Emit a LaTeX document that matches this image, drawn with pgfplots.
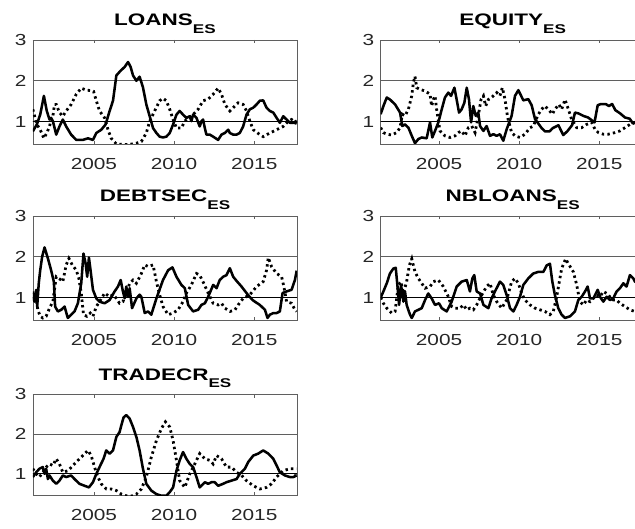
\documentclass[border=0pt]{standalone}
\usepackage{fontspec}
\setmainfont{Liberation Sans}
\usepackage{graphicx}
\usepackage{pgfplots}
\pgfplotsset{compat=1.18}
\definecolor{axgray}{RGB}{95,95,95}
\definecolor{txtgray}{RGB}{38,38,38}
\newcommand\sx[1]{\scalebox{1.3}[1]{\fontsize{12}{14}\selectfont #1}}
\newcommand\ttl[1]{\scalebox{1.35}[1]{\fontsize{12.5}{14}\selectfont\bfseries #1\raisebox{-5.8pt}{\fontsize{9.5}{10}\selectfont\bfseries ES}}}
\pgfplotsset{
 panel/.style={
  scale only axis, width=198pt, height=78pt, anchor=south west,
  ymin=0.45, ymax=3,
  xtick={2005,2010,2015}, xticklabels={\sx{2005},\sx{2010},\sx{2015}},
  ytick={1,2,3}, yticklabels={\sx{1},\sx{2},\sx{3}},
  tick align=inside, xtick pos=both, ytick pos=both,
  major tick length=2.5pt,
  axis line style={axgray, line width=0.6pt},
  every tick/.style={axgray, line width=0.5pt},
  ymajorgrids, major grid style={axgray, line width=0.6pt},
  ticklabel style={font=\fontsize{12}{14}\selectfont, text=txtgray},
  xticklabel style={yshift=-7pt},
  yticklabel style={xshift=-1.4pt},
  title style={font=\fontsize{12.5}{14}\selectfont, anchor=base, yshift=4.7pt},
  clip=true,
 },
 leftcol/.style={xmin=2001.2, xmax=2017.67},
 rightcol/.style={xmin=2001.36, xmax=2017.83},
 sline/.style={black, line width=1.9pt, line join=round},
 dline/.style={black, line width=2.1pt, dash pattern=on 1.8pt off 2.4pt},
 oneline/.style={black, line width=0.6pt, forget plot},
}
\begin{document}
\begin{tikzpicture}
\path[use as bounding box] (0,0) rectangle (476.25pt,396pt);
\clip (0,0) rectangle (476.25pt,396pt);

% ---------------- LOANS ----------------
\begin{axis}[panel, leftcol, at={(24.75pt,288pt)}, title={\ttl{LOANS}}]
\addplot[oneline] coordinates {(2000,1) (2019,1)};
\addplot[dline] coordinates {
(2001.19,1.30) (2001.44,0.93) (2001.65,0.80) (2001.88,0.59) (2002.06,0.72) (2002.23,0.88) (2002.33,1.05) (2002.44,1.13) (2002.54,1.42) (2002.65,1.42) (2002.85,1.22) (2003.06,1.13) (2003.27,1.26) (2003.58,1.42) (2003.90,1.67) (2004.21,1.82) (2004.52,1.77) (2004.83,1.76) (2004.98,1.74) (2005.15,1.51) (2005.35,1.26) (2005.67,1.09) (2005.88,0.80) (2006.08,0.59) (2006.40,0.45) (2006.81,0.44) (2007.23,0.44) (2007.65,0.47) (2007.96,0.51) (2008.27,0.72) (2008.48,1.01) (2008.79,1.26) (2009.10,1.51) (2009.31,1.57) (2009.52,1.51) (2009.73,1.30) (2009.94,1.05) (2010.15,0.84) (2010.46,0.84) (2010.67,1.01) (2010.88,1.09) (2011.19,1.17) (2011.50,1.30) (2011.81,1.51) (2012.13,1.55) (2012.44,1.67) (2012.75,1.82) (2012.96,1.67) (2013.17,1.42) (2013.48,1.26) (2013.69,1.34) (2014.00,1.46) (2014.31,1.42) (2014.52,1.26) (2014.73,1.01) (2014.94,0.80) (2015.35,0.68) (2015.56,0.63) (2015.98,0.72) (2016.40,0.80) (2016.81,0.88) (2017.13,1.01) (2017.33,1.05) (2017.54,0.97) (2017.65,0.95)};
\addplot[sline] coordinates {
(2001.19,0.76) (2001.44,0.93) (2001.65,1.17) (2001.88,1.63) (2002.06,1.26) (2002.23,1.05) (2002.33,1.09) (2002.44,1.01) (2002.65,0.68) (2002.85,0.88) (2003.06,1.05) (2003.27,0.88) (2003.58,0.68) (2003.90,0.55) (2004.31,0.55) (2004.63,0.59) (2004.94,0.55) (2005.15,0.72) (2005.46,0.80) (2005.73,0.93) (2005.98,1.26) (2006.19,1.51) (2006.29,1.80) (2006.40,2.13) (2006.65,2.24) (2006.92,2.34) (2007.13,2.46) (2007.29,2.34) (2007.44,2.13) (2007.65,2.00) (2007.85,2.10) (2008.06,1.84) (2008.27,1.42) (2008.48,1.13) (2008.69,0.84) (2008.90,0.72) (2009.10,0.63) (2009.31,0.61) (2009.52,0.63) (2009.73,0.72) (2009.94,0.93) (2010.15,1.17) (2010.35,1.26) (2010.56,1.17) (2010.77,1.09) (2010.98,1.13) (2011.08,1.01) (2011.19,1.17) (2011.40,1.09) (2011.60,0.88) (2011.71,1.01) (2011.81,1.05) (2011.92,0.84) (2012.02,0.68) (2012.23,0.68) (2012.44,0.63) (2012.75,0.55) (2012.96,0.68) (2013.17,0.72) (2013.38,0.80) (2013.48,0.72) (2013.69,0.68) (2013.90,0.68) (2014.10,0.72) (2014.31,0.88) (2014.52,1.17) (2014.73,1.30) (2014.94,1.34) (2015.15,1.42) (2015.35,1.51) (2015.56,1.52) (2015.77,1.34) (2015.98,1.26) (2016.19,1.22) (2016.40,1.09) (2016.60,0.97) (2016.81,1.13) (2017.02,1.05) (2017.23,0.97) (2017.44,0.97) (2017.65,1.02)};
\end{axis}

% ---------------- EQUITY ----------------
\begin{axis}[panel, rightcol, at={(285.5pt,288pt)}, title={\ttl{EQUITY}}]
\addplot[oneline] coordinates {(2000,1) (2019,1)};
\addplot[dline] coordinates {
(2001.36,0.85) (2001.53,0.73) (2001.74,0.69) (2002.05,0.67) (2002.36,0.73) (2002.57,0.85) (2002.71,1.18) (2002.88,1.14) (2003.09,1.30) (2003.30,1.63) (2003.40,1.95) (2003.50,2.11) (2003.61,1.83) (2003.81,1.79) (2004.13,1.75) (2004.44,1.67) (2004.54,1.38) (2004.65,1.54) (2004.75,1.63) (2004.85,1.30) (2005.06,0.77) (2005.37,0.65) (2005.69,0.61) (2006.00,0.65) (2006.21,0.73) (2006.41,0.77) (2006.62,0.65) (2006.83,0.85) (2007.04,0.89) (2007.25,0.73) (2007.45,1.14) (2007.62,1.54) (2007.77,1.63) (2007.91,1.38) (2008.08,1.54) (2008.28,1.59) (2008.60,1.71) (2008.80,1.63) (2008.95,1.83) (2009.12,1.54) (2009.28,1.10) (2009.53,0.73) (2009.74,0.65) (2010.05,0.61) (2010.36,0.69) (2010.68,0.85) (2010.88,0.89) (2011.20,1.18) (2011.40,1.30) (2011.61,1.38) (2011.82,1.30) (2012.07,1.18) (2012.23,1.30) (2012.48,1.42) (2012.65,1.30) (2012.86,1.54) (2013.07,1.30) (2013.27,1.06) (2013.59,0.85) (2013.90,0.85) (2014.21,0.93) (2014.52,0.98) (2014.73,0.81) (2014.94,0.73) (2015.25,0.69) (2015.56,0.69) (2015.98,0.73) (2016.29,0.77) (2016.60,0.85) (2016.91,0.93) (2017.12,0.96) (2017.40,1.00) (2017.80,1.02)};
\addplot[sline] coordinates {
(2001.36,1.18) (2001.53,1.38) (2001.74,1.59) (2001.94,1.54) (2002.26,1.42) (2002.57,1.22) (2002.71,0.89) (2002.88,0.93) (2003.09,0.85) (2003.30,0.65) (2003.50,0.47) (2003.71,0.57) (2003.92,0.61) (2004.23,0.59) (2004.44,0.98) (2004.58,0.61) (2004.75,0.77) (2004.96,0.98) (2005.17,1.30) (2005.37,1.59) (2005.58,1.71) (2005.75,1.63) (2005.96,1.83) (2006.10,1.54) (2006.25,1.22) (2006.41,1.30) (2006.58,1.46) (2006.73,1.83) (2006.87,1.54) (2007.00,0.98) (2007.14,1.38) (2007.29,1.14) (2007.45,1.22) (2007.56,0.89) (2007.77,0.77) (2007.97,0.89) (2008.18,0.65) (2008.39,0.69) (2008.60,0.65) (2008.80,0.69) (2009.01,0.53) (2009.22,0.81) (2009.53,1.14) (2009.74,1.63) (2009.95,1.77) (2010.26,1.52) (2010.57,1.55) (2010.78,1.40) (2010.99,1.06) (2011.20,0.95) (2011.40,0.84) (2011.61,0.76) (2011.90,0.76) (2012.10,0.84) (2012.45,0.91) (2012.75,0.67) (2013.00,0.76) (2013.30,0.91) (2013.48,1.22) (2013.70,1.20) (2014.00,1.14) (2014.30,1.10) (2014.70,0.98) (2014.90,1.40) (2015.10,1.43) (2015.40,1.43) (2015.60,1.38) (2015.80,1.43) (2016.00,1.28) (2016.30,1.20) (2016.60,1.10) (2016.90,1.07) (2017.10,0.95) (2017.30,1.00) (2017.80,1.00)};
\end{axis}

% ---------------- DEBTSEC ----------------
\begin{axis}[panel, leftcol, at={(24.75pt,156pt)}, title={\ttl{DEBTSEC}}]
\addplot[oneline] coordinates {(2000,1) (2019,1)};
\addplot[dline] coordinates {
(2001.19,1.15) (2001.29,0.90) (2001.40,0.98) (2001.50,0.70) (2001.65,0.54) (2001.81,0.50) (2002.02,0.54) (2002.23,0.74) (2002.44,0.90) (2002.65,1.51) (2002.96,1.43) (2003.06,1.39) (2003.27,1.80) (2003.44,1.96) (2003.65,1.80) (2003.90,1.67) (2004.06,1.47) (2004.21,1.11) (2004.35,0.58) (2004.56,0.54) (2004.77,0.62) (2004.94,0.54) (2005.15,0.78) (2005.35,0.90) (2005.67,1.11) (2005.98,1.02) (2006.19,1.07) (2006.40,0.98) (2006.60,0.86) (2006.81,0.90) (2007.02,1.11) (2007.23,1.35) (2007.44,1.43) (2007.65,1.35) (2007.96,1.59) (2008.17,1.80) (2008.38,1.76) (2008.69,1.80) (2008.90,1.39) (2009.10,1.07) (2009.31,0.78) (2009.63,0.58) (2009.94,0.62) (2010.25,0.70) (2010.56,0.90) (2010.77,1.11) (2011.08,1.31) (2011.40,1.59) (2011.60,1.55) (2011.85,1.35) (2012.13,1.11) (2012.44,0.86) (2012.75,0.82) (2012.96,0.86) (2013.17,0.74) (2013.50,0.66) (2013.80,0.70) (2014.00,0.82) (2014.31,0.98) (2014.73,1.07) (2015.15,1.27) (2015.56,1.39) (2015.77,1.67) (2015.88,1.98) (2016.08,1.76) (2016.40,1.59) (2016.71,1.51) (2016.85,1.27) (2017.02,0.90) (2017.33,0.86) (2017.54,0.70) (2017.65,0.66)};
\addplot[sline] coordinates {
(2001.19,1.11) (2001.29,0.90) (2001.40,1.19) (2001.46,0.78) (2001.56,1.35) (2001.65,1.67) (2001.77,2.00) (2001.92,2.23) (2002.13,1.96) (2002.33,1.67) (2002.50,1.39) (2002.58,0.78) (2002.75,0.66) (2002.96,0.70) (2003.17,0.78) (2003.37,0.50) (2003.58,0.58) (2003.79,0.66) (2004.00,0.86) (2004.21,1.35) (2004.35,2.08) (2004.48,1.84) (2004.58,1.51) (2004.69,1.98) (2004.79,1.67) (2004.94,1.19) (2005.15,0.98) (2005.35,0.90) (2005.67,0.86) (2005.98,0.94) (2006.29,1.15) (2006.50,1.27) (2006.67,1.43) (2006.81,1.15) (2006.92,0.98) (2007.02,1.27) (2007.13,1.02) (2007.23,1.23) (2007.38,0.74) (2007.65,0.98) (2007.85,1.07) (2007.96,1.02) (2008.17,0.62) (2008.38,0.66) (2008.58,0.58) (2008.90,0.98) (2009.31,1.43) (2009.63,1.67) (2009.90,1.74) (2010.15,1.51) (2010.46,1.31) (2010.67,1.23) (2010.88,0.82) (2011.19,0.66) (2011.50,0.70) (2011.71,0.82) (2011.92,0.86) (2012.13,1.02) (2012.44,1.31) (2012.65,1.23) (2012.85,1.43) (2013.06,1.51) (2013.27,1.55) (2013.48,1.72) (2013.69,1.51) (2013.94,1.39) (2014.21,1.27) (2014.60,1.07) (2014.90,0.94) (2015.04,0.90) (2015.35,0.82) (2015.67,0.70) (2015.83,0.50) (2015.98,0.58) (2016.19,0.62) (2016.40,0.62) (2016.60,0.66) (2016.77,1.11) (2017.02,1.15) (2017.33,1.19) (2017.54,1.43) (2017.65,1.66)};
\end{axis}

% ---------------- NBLOANS ----------------
\begin{axis}[panel, rightcol, at={(285.5pt,156pt)}, title={\ttl{NBLOANS}}]
\addplot[oneline] coordinates {(2000,1) (2019,1)};
\addplot[dline] coordinates {
(2001.36,1.00) (2001.53,0.86) (2001.74,0.74) (2002.05,0.62) (2002.26,0.66) (2002.46,1.31) (2002.63,1.39) (2002.78,1.10) (2002.98,1.39) (2003.15,1.79) (2003.30,1.95) (2003.50,1.63) (2003.71,1.47) (2003.92,1.35) (2004.13,1.23) (2004.44,1.27) (2004.65,1.39) (2004.96,1.43) (2005.27,1.27) (2005.58,1.02) (2005.79,0.78) (2006.00,0.74) (2006.31,0.74) (2006.52,0.82) (2006.73,0.70) (2006.93,0.74) (2007.14,0.70) (2007.35,0.82) (2007.66,1.06) (2007.97,1.27) (2008.18,1.35) (2008.39,1.06) (2008.60,0.90) (2008.91,0.74) (2009.22,0.94) (2009.53,1.39) (2009.74,1.47) (2009.95,1.35) (2010.16,1.10) (2010.36,0.94) (2010.68,0.82) (2010.99,0.74) (2011.30,0.70) (2011.61,0.66) (2011.92,0.58) (2012.13,0.66) (2012.34,1.02) (2012.65,1.71) (2012.90,1.95) (2013.07,1.83) (2013.38,1.63) (2013.59,1.31) (2013.79,0.90) (2014.00,0.82) (2014.21,0.94) (2014.42,0.90) (2014.63,0.98) (2014.83,1.06) (2015.04,1.02) (2015.25,1.15) (2015.46,1.10) (2015.66,1.02) (2015.87,0.94) (2016.08,0.94) (2016.29,0.86) (2016.60,0.78) (2016.91,0.70) (2017.22,0.66) (2017.80,0.62)};
\addplot[sline] coordinates {
(2001.36,1.00) (2001.53,1.15) (2001.74,1.35) (2001.94,1.59) (2002.15,1.71) (2002.30,1.73) (2002.42,1.23) (2002.51,0.82) (2002.63,1.31) (2002.78,0.90) (2002.88,1.15) (2002.98,0.82) (2003.19,0.58) (2003.30,0.50) (2003.50,0.66) (2003.71,0.70) (2003.92,0.74) (2004.13,0.94) (2004.33,1.10) (2004.54,0.98) (2004.75,0.82) (2005.00,0.86) (2005.17,0.74) (2005.48,0.66) (2005.79,0.90) (2006.10,1.27) (2006.41,1.39) (2006.73,1.43) (2006.93,1.15) (2007.08,1.47) (2007.20,1.55) (2007.35,1.15) (2007.56,1.10) (2007.77,0.82) (2008.08,0.74) (2008.28,0.98) (2008.49,1.15) (2008.80,1.39) (2009.01,1.31) (2009.22,1.06) (2009.43,0.74) (2009.64,0.66) (2009.84,0.82) (2010.05,1.02) (2010.26,1.31) (2010.57,1.47) (2010.88,1.59) (2011.20,1.63) (2011.51,1.63) (2011.72,1.79) (2011.92,1.83) (2012.07,1.39) (2012.23,1.06) (2012.44,0.74) (2012.65,0.58) (2012.86,0.50) (2013.17,0.54) (2013.48,0.66) (2013.69,0.94) (2013.90,1.02) (2014.11,1.15) (2014.27,1.27) (2014.42,0.98) (2014.63,0.98) (2014.73,1.06) (2014.90,1.19) (2015.04,1.02) (2015.25,0.90) (2015.46,1.02) (2015.66,0.94) (2015.87,0.98) (2016.08,1.15) (2016.29,1.23) (2016.50,1.35) (2016.70,1.27) (2016.91,1.55) (2017.12,1.47) (2017.22,1.39) (2017.80,1.30)};
\end{axis}

% ---------------- TRADECR ----------------
\begin{axis}[panel, leftcol, height=76pt, at={(24.75pt,24.2pt)}, title={\ttl{TRADECR}}]
\addplot[oneline] coordinates {(2000,1) (2019,1)};
\addplot[dline] coordinates {
(2001.19,1.13) (2001.40,1.00) (2001.60,0.92) (2001.81,1.04) (2002.02,1.17) (2002.23,1.25) (2002.44,1.21) (2002.65,1.38) (2002.85,1.25) (2003.06,1.04) (2003.38,1.08) (2003.69,1.21) (2004.00,1.34) (2004.31,1.46) (2004.63,1.59) (2004.83,1.46) (2005.04,1.17) (2005.25,0.92) (2005.46,0.75) (2005.77,0.62) (2006.08,0.62) (2006.40,0.58) (2006.71,0.49) (2007.02,0.45) (2007.33,0.44) (2007.65,0.49) (2007.96,0.62) (2008.27,0.92) (2008.58,1.42) (2008.90,1.84) (2009.21,2.14) (2009.46,2.31) (2009.73,2.18) (2009.94,1.84) (2010.15,1.34) (2010.35,0.83) (2010.67,0.66) (2010.98,1.00) (2011.29,1.25) (2011.60,1.51) (2011.92,1.38) (2012.23,1.34) (2012.44,1.25) (2012.65,1.46) (2012.96,1.38) (2013.27,1.17) (2013.58,1.17) (2013.90,1.04) (2014.21,0.96) (2014.52,0.83) (2014.94,0.70) (2015.35,0.62) (2015.77,0.66) (2016.08,0.75) (2016.40,0.92) (2016.81,1.08) (2017.23,1.13) (2017.54,1.13) (2017.65,1.13)};
\addplot[sline] coordinates {
(2001.19,0.92) (2001.40,1.04) (2001.60,1.13) (2001.81,1.17) (2001.92,1.00) (2002.02,1.13) (2002.13,0.87) (2002.23,0.96) (2002.44,0.83) (2002.65,0.75) (2002.85,0.83) (2003.06,0.96) (2003.27,0.92) (2003.58,0.96) (2003.79,0.87) (2004.10,0.75) (2004.42,0.70) (2004.69,0.66) (2004.94,0.79) (2005.15,1.00) (2005.35,1.17) (2005.60,1.38) (2005.77,1.59) (2005.98,1.51) (2006.19,1.59) (2006.40,1.93) (2006.60,2.05) (2006.71,2.22) (2006.85,2.42) (2007.02,2.48) (2007.23,2.39) (2007.44,2.18) (2007.65,1.93) (2007.85,1.59) (2008.06,1.13) (2008.27,0.75) (2008.58,0.58) (2008.90,0.49) (2009.21,0.45) (2009.52,0.45) (2009.73,0.54) (2009.94,0.66) (2010.15,1.08) (2010.35,1.34) (2010.56,1.55) (2010.77,1.38) (2010.98,1.25) (2011.19,1.17) (2011.40,0.92) (2011.60,0.66) (2011.92,0.79) (2012.13,0.75) (2012.33,0.79) (2012.54,0.79) (2012.75,0.70) (2013.06,0.75) (2013.27,0.79) (2013.58,0.83) (2013.90,0.87) (2014.10,1.00) (2014.42,1.13) (2014.63,1.30) (2014.94,1.46) (2015.25,1.51) (2015.56,1.59) (2015.88,1.51) (2016.19,1.38) (2016.40,1.21) (2016.60,1.04) (2016.92,0.96) (2017.23,0.92) (2017.44,0.92) (2017.65,0.96)};
\end{axis}
\end{tikzpicture}
\end{document}
